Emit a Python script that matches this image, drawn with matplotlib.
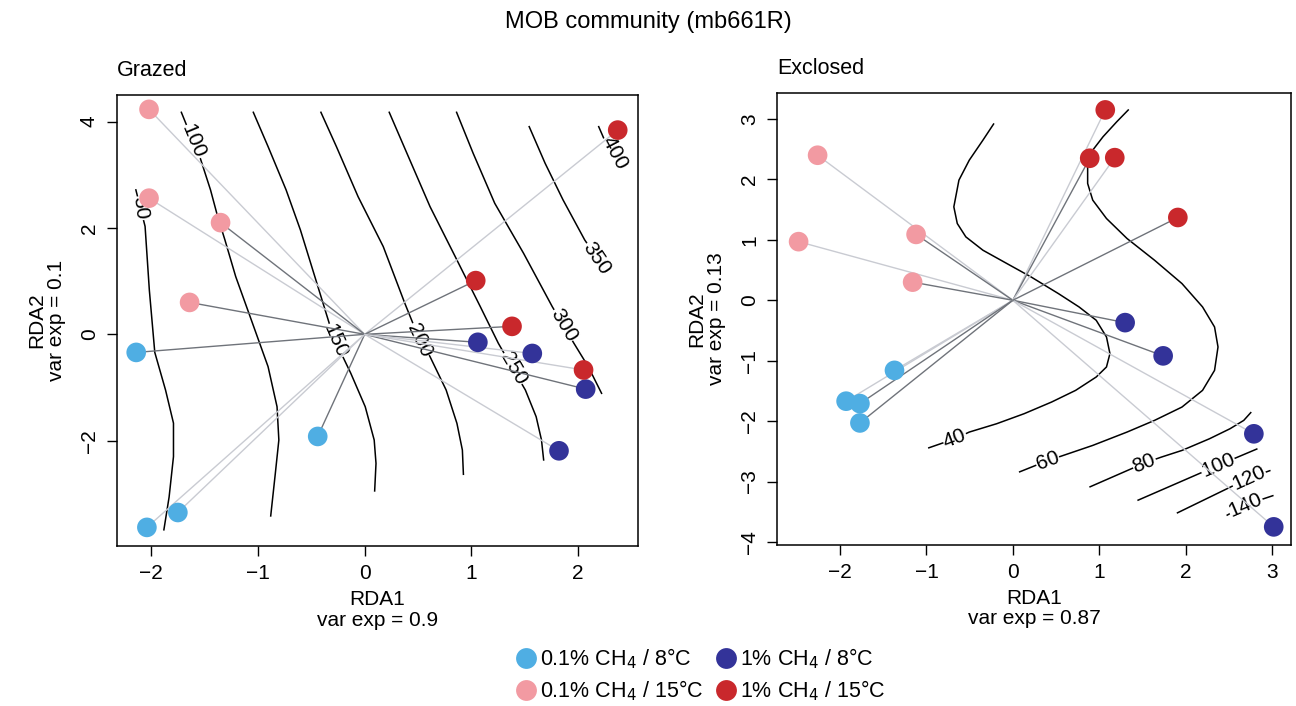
import numpy as np
import matplotlib
matplotlib.use("Agg")
import matplotlib.pyplot as plt
from matplotlib.lines import Line2D

plt.rcParams["font.family"] = ["Liberation Sans", "DejaVu Sans"]
plt.rcParams["axes.unicode_minus"] = True

# colours
COL_LB = "#4FAEE3"   # 0.1% CH4 / 8C
COL_PK = "#F29AA2"   # 0.1% CH4 / 15C
COL_DB = "#333399"   # 1% CH4 / 8C
COL_RD = "#C9282C"   # 1% CH4 / 15C
SPIDER_DARK = "#6F737A"
SPIDER_LIGHT = "#C9CBD2"

group_labels = ["0.1% CH$_4$ / 8°C", "0.1% CH$_4$ / 15°C",
                "1% CH$_4$ / 8°C", "1% CH$_4$ / 15°C"]
group_colors = [COL_LB, COL_PK, COL_DB, COL_RD]

# ---------------- Grazed ----------------
graz_center = (0.0, 0.0)
graz_lb_x = [-2.14, -0.44, -1.75, -2.04]
graz_lb_y = [-0.34, -1.92, -3.35, -3.63]
graz_lb_dark = [1, 1, 0, 0]
graz_pk_x = [-2.02, -2.02, -1.35, -1.64]
graz_pk_y = [4.23, 2.56, 2.10, 0.60]
graz_pk_dark = [0, 0, 1, 1]
graz_db_x = [1.06, 1.57, 2.07, 1.82]
graz_db_y = [-0.15, -0.36, -1.03, -2.19]
graz_db_dark = [1, 0, 1, 0]
graz_rd_x = [2.37, 1.04, 1.38, 2.05]
graz_rd_y = [3.84, 1.01, 0.15, -0.67]
graz_rd_dark = [0, 1, 1, 0]

# contour lines (level, x, y, label x, label y)
graz_contours = [
    (50, [-2.145, -2.057, -2.017, -1.966, -1.865, -1.791, -1.791, -1.832, -1.882],
         [2.73, 2.03, 0.83, -0.34, -1.05, -1.67, -2.30, -3.06, -3.69], -2.10, 2.37),
    (100, [-1.720, -1.663, -1.545, -1.444, -1.377, -1.309, -1.208, -1.073, -0.905, -0.821, -0.804, -0.837, -0.881],
          [4.188, 3.906, 3.342, 2.715, 2.213, 1.774, 1.085, 0.332, -0.608, -1.361, -1.987, -2.614, -3.429], -1.606, 3.624),
    (150, [-1.046, -0.905, -0.736, -0.602, -0.467, -0.332, -0.265, -0.130, 0.005, 0.089, 0.106, 0.093],
          [4.188, 3.530, 2.715, 1.962, 1.085, 0.207, -0.169, -0.733, -1.361, -1.987, -2.426, -2.959], -0.275, -0.119),
    (200, [-0.413, -0.265, -0.062, 0.174, 0.376, 0.477, 0.612, 0.763, 0.864, 0.915, 0.925],
          [4.188, 3.530, 2.589, 1.649, 0.583, 0.082, -0.420, -1.047, -1.674, -2.176, -2.646], 0.511, -0.107),
    (250, [0.227, 0.409, 0.612, 0.848, 1.083, 1.252, 1.387, 1.505, 1.606, 1.656, 1.677],
          [4.188, 3.342, 2.401, 1.461, 0.520, -0.169, -0.639, -1.047, -1.549, -1.987, -2.376], 1.393, -0.639),
    (300, [0.858, 1.016, 1.218, 1.488, 1.757, 1.858, 1.960, 2.094, 2.222],
          [4.188, 3.404, 2.464, 1.524, 0.520, 0.176, -0.169, -0.608, -1.122], 1.865, 0.176),
    (350, [1.538, 1.690, 1.858, 2.061, 2.179, 2.220],
          [3.918, 3.216, 2.527, 1.774, 1.429, 1.300], 2.172, 1.429),
    (400, [2.189, 2.246, 2.300, 2.380],
          [3.918, 3.655, 3.500, 3.150], 2.337, 3.404),
]
graz_xlim = (-2.32, 2.56)
graz_ylim = (-3.98, 4.50)
graz_xticks = [-2, -1, 0, 1, 2]
graz_yticks = [-2, 0, 2, 4]

# ---------------- Exclosed ----------------
excl_center = (0.0, 0.0)
excl_lb_x = [-1.37, -1.93, -1.77, -1.77]
excl_lb_y = [-1.16, -1.67, -1.71, -2.03]
excl_lb_dark = [0, 0, 1, 1]
excl_pk_x = [-2.26, -2.48, -1.12, -1.16]
excl_pk_y = [2.40, 0.97, 1.09, 0.30]
excl_pk_dark = [0, 0, 1, 1]
excl_db_x = [1.30, 1.74, 2.79, 3.02]
excl_db_y = [-0.37, -0.92, -2.21, -3.75]
excl_db_dark = [1, 1, 0, 0]
excl_rd_x = [1.07, 0.89, 1.18, 1.91]
excl_rd_y = [3.15, 2.35, 2.36, 1.37]
excl_rd_dark = [0, 1, 0, 1]

excl_contours = [
    (40, [-0.218, -0.346, -0.504, -0.624, -0.683, -0.643, -0.544, -0.346, -0.068, 0.210, 0.528, 0.766,
          0.965, 1.084, 1.124, 1.084, 0.965, 0.727, 0.449, 0.131, -0.187, -0.504, -0.671, -0.981],
         [2.927, 2.650, 2.319, 1.988, 1.546, 1.270, 1.049, 0.828, 0.607, 0.387, 0.110, -0.110,
          -0.331, -0.607, -0.883, -1.104, -1.270, -1.491, -1.684, -1.877, -2.043, -2.181, -2.292, -2.446],
         -0.671, -2.292),
    (60, [1.342, 1.203, 1.044, 0.925, 0.866, 0.866, 0.925, 1.084, 1.322, 1.640, 1.958, 2.196, 2.335,
          2.375, 2.335, 2.196, 1.958, 1.640, 1.322, 0.925, 0.528, 0.409, 0.071],
         [3.158, 2.954, 2.706, 2.485, 2.209, 1.933, 1.657, 1.353, 1.022, 0.663, 0.276, -0.110, -0.442,
          -0.773, -1.160, -1.491, -1.767, -1.988, -2.181, -2.402, -2.595, -2.650, -2.844],
         0.401, -2.650),
    (80, [2.760, 2.673, 2.514, 2.276, 1.958, 1.720, 1.521, 0.886],
         [-1.850, -1.988, -2.126, -2.292, -2.485, -2.595, -2.695, -3.092], 1.521, -2.695),
    (100, [2.832, 2.375, 1.442], [-2.457, -2.733, -3.313], 2.375, -2.733),
    (120, [2.983, 2.732, 1.898], [-2.816, -2.943, -3.523], 2.732, -2.943),
    (140, [3.018, 2.693, 2.474], [-3.230, -3.385, -3.562], 2.693, -3.385),
]
excl_xlim = (-2.73, 3.22)
excl_ylim = (-4.05, 3.43)
excl_xticks = [-2, -1, 0, 1, 2, 3]
excl_yticks = [-4, -3, -2, -1, 0, 1, 2, 3]


def label_angle(xs, ys, lx, ly):
    xs = np.asarray(xs)
    ys = np.asarray(ys)
    i = int(np.argmin((xs - lx) ** 2 + (ys - ly) ** 2))
    i0 = max(i - 1, 0)
    i1 = min(i + 1, len(xs) - 1)
    return xs[i0], ys[i0], xs[i1], ys[i1]


def draw_panel(ax, center, groups, contours, xlim, ylim, xticks, yticks, title, xlab, ylab):
    ax.set_xlim(*xlim)
    ax.set_ylim(*ylim)

    for level, xs, ys, lx, ly in contours:
        ax.plot(xs, ys, color="black", lw=1.1, zorder=1, solid_capstyle="butt")
        x0, y0, x1, y1 = label_angle(xs, ys, lx, ly)
        p0 = ax.transData.transform((x0, y0))
        p1 = ax.transData.transform((x1, y1))
        ang = np.degrees(np.arctan2(p1[1] - p0[1], p1[0] - p0[0]))
        if ang > 90:
            ang -= 180
        elif ang <= -90:
            ang += 180
        ax.text(lx, ly, str(level), rotation=ang, rotation_mode="anchor",
                ha="center", va="center", fontsize=15, zorder=2,
                bbox=dict(boxstyle="square,pad=0.02", fc="white", ec="none"))

    for xs, ys, dark, col in groups:
        for x, y, d in zip(xs, ys, dark):
            ax.plot([center[0], x], [center[1], y],
                    color=SPIDER_DARK if d else SPIDER_LIGHT, lw=1.0, zorder=3)
    for xs, ys, dark, col in groups:
        ax.scatter(xs, ys, s=200, color=col, edgecolors="none", zorder=4)

    ax.set_xticks(xticks)
    ax.set_yticks(yticks)
    ax.set_xticklabels([f"{t:d}".replace("-", "\u2212") for t in xticks])
    ax.set_yticklabels([f"{t:d}".replace("-", "\u2212") for t in yticks],
                       rotation=90, va="center")
    ax.tick_params(direction="out", length=7, width=1, labelsize=15, pad=6)
    for sp in ax.spines.values():
        sp.set_linewidth(1.1)
    ax.set_xlabel(xlab, fontsize=15, labelpad=5, linespacing=1.1)
    ax.set_ylabel(ylab, fontsize=15, labelpad=10, linespacing=1.05)
    ax.set_title(title, loc="left", fontsize=15.5, pad=14)


fig = plt.figure(figsize=(12.96, 7.06), dpi=100)
ax1 = fig.add_axes([117 / 1296, 1 - 546 / 706, 521 / 1296, 451 / 706])
ax2 = fig.add_axes([777 / 1296, 1 - 545 / 706, 514 / 1296, 452 / 706])

graz_groups = [
    (graz_lb_x, graz_lb_y, graz_lb_dark, COL_LB),
    (graz_pk_x, graz_pk_y, graz_pk_dark, COL_PK),
    (graz_db_x, graz_db_y, graz_db_dark, COL_DB),
    (graz_rd_x, graz_rd_y, graz_rd_dark, COL_RD),
]
excl_groups = [
    (excl_lb_x, excl_lb_y, excl_lb_dark, COL_LB),
    (excl_pk_x, excl_pk_y, excl_pk_dark, COL_PK),
    (excl_db_x, excl_db_y, excl_db_dark, COL_DB),
    (excl_rd_x, excl_rd_y, excl_rd_dark, COL_RD),
]

draw_panel(ax1, graz_center, graz_groups, graz_contours, graz_xlim, graz_ylim,
           graz_xticks, graz_yticks, "Grazed", "RDA1\nvar exp = 0.9", "RDA2\nvar exp = 0.1")
draw_panel(ax2, excl_center, excl_groups, excl_contours, excl_xlim, excl_ylim,
           excl_xticks, excl_yticks, "Exclosed", "RDA1\nvar exp = 0.87", "RDA2\nvar exp = 0.13")

fig.text(0.5, 1 - 22 / 706, "MOB community (mb661R)", ha="center", va="center", fontsize=17)

handles = [Line2D([], [], ls="none", marker="o", markersize=15, color=c, markeredgewidth=0)
           for c in group_colors]
fig.legend(handles, group_labels, ncol=2, loc="center",
           bbox_to_anchor=(700 / 1296, 1 - 675 / 706), frameon=False,
           fontsize=15.5, handletextpad=0.1, columnspacing=0.5,
           labelspacing=0.35, handlelength=1.1, borderpad=0)

fig.savefig("out.png", dpi=100)
